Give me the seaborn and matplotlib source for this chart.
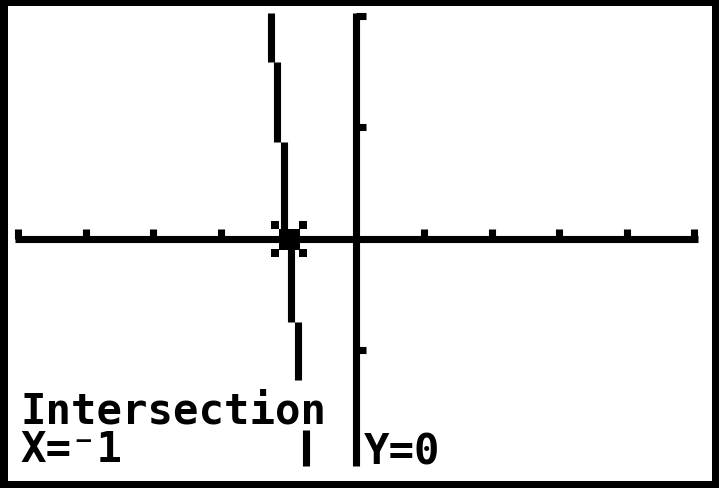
import numpy as np
import pandas as pd
import matplotlib.pyplot as plt
import matplotlib.transforms as mtransforms
import seaborn as sns

# graph screen, window (1 unit per tick)
x_ticks = [-5, -4, -3, -2, -1, 1, 2, 3, 4, 5]
y_ticks = [-1, 1, 2]
x_axis_span = (-5.05, 5.05)
y_axis_span = (-2.04, 2.03)

# Y1 in connected mode: the visible pixel columns and where each one starts/stops
# (the "Intersection" text row wipes out the part between -1.265 and -1.713)
col_x = [-1.266, -1.166, -1.065, -0.962, -0.858, -0.751]
col_top = [2.03, 1.585, 0.873, 0.05, -0.747, -1.713]
col_bottom = [1.585, 0.873, 0.05, -0.747, -1.265, -2.033]

# result shown by CALC > intersect
int_x = -1
int_y = 0
int_label = "Intersection"
x_label = "X=\u207b1"
y_label = "Y=0"

W, H = 719, 489
PX = 7.1 * 0.72  # one calculator pixel, in points

sns.set_style("white")
plt.rcParams["font.family"] = ["DejaVu Sans Mono", "DejaVu Sans"]

fig = plt.figure(figsize=(W / 100, H / 100), dpi=100, facecolor="black")
ax = fig.add_axes([8 / W, 1 - 481.5 / H, 703.7 / W, 474.8 / H])
ax.set_facecolor("white")

# curve, one vertical run per pixel column
segs = pd.DataFrame({
    "seg": np.repeat(np.arange(len(col_x)), 2),
    "x": np.repeat(col_x, 2),
    "y": np.ravel(np.column_stack([col_top, col_bottom])),
})
sns.lineplot(data=segs, x="x", y="y", units="seg", estimator=None, sort=False,
             color="black", linewidth=PX, solid_capstyle="butt", legend=False, ax=ax)

# axes drawn through the origin like the calculator does
for side in ["top", "right"]:
    ax.spines[side].set_visible(False)
ax.spines["bottom"].set_position(("data", 0))
ax.spines["left"].set_position(("data", 0))
ax.spines["bottom"].set_bounds(*x_axis_span)
ax.spines["left"].set_bounds(*y_axis_span)
for side in ["bottom", "left"]:
    ax.spines[side].set_linewidth(PX)
    ax.spines[side].set_color("black")
    ax.spines[side].set_capstyle("butt")

ax.set_xticks(x_ticks)
ax.set_yticks(y_ticks)
ax.tick_params(axis="x", bottom=True, direction="in", length=7.2, width=PX,
               color="black", labelbottom=False)
ax.tick_params(axis="y", left=True, direction="in", length=7.5, width=PX,
               color="black", labelleft=False)
ax.set_xlabel("")
ax.set_ylabel("")
ax.set_xlim(-5.152, 5.257)
ax.set_ylim(-2.166, 2.092)

# blinking cursor: 3x3 block with four diagonal dots two pixels away
ax.plot([int_x], [int_y], marker="s", ms=21 * 0.72, color="black", mew=0)
for dx, dy in [(-14, 14), (14, 14), (-14, -14), (14, -14)]:
    shift = mtransforms.ScaledTranslation(dx / 100, dy / 100, fig.dpi_scale_trans)
    ax.plot([int_x], [int_y], marker="s", ms=7.4 * 0.72, color="black", mew=0,
            transform=ax.transData + shift)

# text rows at the bottom of the screen
txt = dict(fontsize=30.5, fontweight="bold", color="black", va="baseline")
fig.text(20 / W, 1 - 423.3 / H, int_label, **txt)
fig.text(20 / W, 1 - 461.7 / H, x_label, **txt)
fig.text(364 / W, 1 - 465 / H, y_label, **txt)

fig.savefig("out.png", dpi=100, facecolor="black")
